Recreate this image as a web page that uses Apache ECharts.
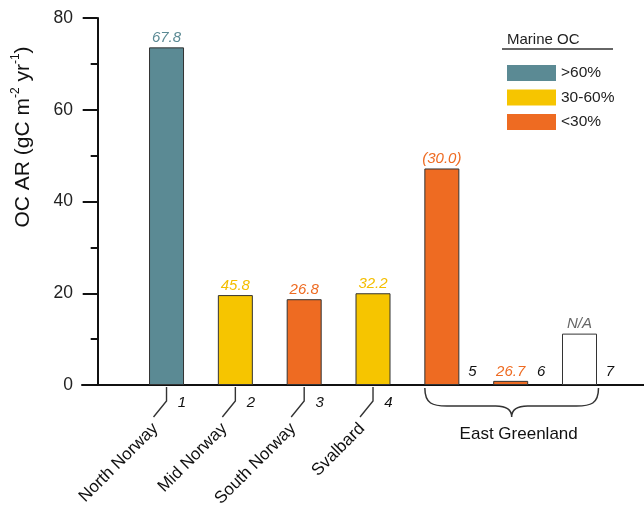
<!DOCTYPE html>
<html><head><meta charset="utf-8">
<script src="https://cdn.jsdelivr.net/npm/echarts@6/dist/echarts.min.js"></script>
<style>html,body{margin:0;padding:0;background:#fff}#c{width:644px;height:506px}</style>
</head><body><div id="c"></div>
<script>
// ---- data ----
const sitePos = [1, 2, 3, 4, 5, 6, 7];
const siteNumbers = ['1', '2', '3', '4', '5', '6', '7'];
const ocAR = [73.6, 19.6, 18.7, 20.0, 47.2, 0.9, 11.2];
const marineLabel = ['67.8', '45.8', '26.8', '32.2', '(30.0)', '26.7', 'N/A'];
const marineClass = ['>60%', '30-60%', '<30%', '30-60%', '<30%', '<30%', 'N/A'];
const classNames = ['>60%', '30-60%', '<30%'];
const regions = ['North Norway', 'Mid Norway', 'South Norway', 'Svalbard', 'East Greenland'];
const regionFrom = [1, 2, 3, 4, 5];
const regionTo = [1, 2, 3, 4, 7];
const yMin = 0, yMax = 80, yStep = 20;

// ---- styles ----
const FONT = '"Liberation Sans", Arial, Helvetica, sans-serif';
const fillColor = {'>60%': '#5b8a94', '30-60%': '#f6c500', '<30%': '#ee6b22', 'N/A': '#ffffff'};
const textColor = {'>60%': '#5b8a94', '30-60%': '#f4be00', '<30%': '#ee6b22', 'N/A': '#666666'};
const BAR_W = 35;

const chart = echarts.init(document.getElementById('c'), null, {renderer: 'canvas'});

const barData = sitePos.map((x, i) => ({
  value: [x, ocAR[i]],
  itemStyle: {color: fillColor[marineClass[i]], borderColor: '#333', borderWidth: 1},
  label: {formatter: marineLabel[i], color: textColor[marineClass[i]]}
}));

const dummySeries = classNames.map(n => ({
  name: n, type: 'bar', stack: 'all', data: [],
  itemStyle: {color: fillColor[n], borderWidth: 0}
}));

chart.setOption({
  animation: false,
  backgroundColor: '#fff',
  textStyle: {fontFamily: FONT},
  grid: {left: 82, right: 0, top: 18, bottom: 121, containLabel: false},
  legend: {
    data: classNames, orient: 'vertical', left: 502, top: 60,
    itemWidth: 49, itemHeight: 16, itemGap: 8.5, icon: 'rect',
    textStyle: {fontSize: 15.5, color: '#222', fontFamily: FONT},
    selectedMode: false
  },
  xAxis: {
    type: 'value', min: -0.228, max: 7.937,
    axisLine: {show: true, onZero: true, lineStyle: {color: '#111', width: 2}},
    axisTick: {show: false}, axisLabel: {show: false}, splitLine: {show: false}
  },
  yAxis: {
    type: 'value', min: yMin, max: yMax, interval: yStep,
    axisLine: {show: true, onZero: true, lineStyle: {color: '#111', width: 2}},
    axisTick: {show: true, inside: false, length: 15, lineStyle: {color: '#111', width: 2}},
    minorTick: {show: true, splitNumber: 2, length: 7, lineStyle: {color: '#111', width: 2}},
    axisLabel: {fontSize: 17.5, color: '#222', margin: 9, fontFamily: FONT},
    splitLine: {show: false}
  },
  graphic: [
    {type: 'text', x: 22, y: 137, rotation: Math.PI / 2,
     style: {text: '{a|OC AR (gC m}{s|-2}{a| yr}{s|-1}{a|)}', align: 'center', verticalAlign: 'middle',
       rich: {a: {fontSize: 21, fontFamily: FONT, fill: '#111', lineHeight: 24, verticalAlign: 'bottom'},
              s: {fontSize: 12, fontFamily: FONT, fill: '#111', lineHeight: 24, verticalAlign: 'top'}}}},
    {type: 'text', x: 507, y: 40, style: {text: 'Marine OC', fontSize: 15, fontFamily: FONT, fill: '#222', verticalAlign: 'middle'}},
    {type: 'line', shape: {x1: 502, y1: 49, x2: 613, y2: 49}, style: {stroke: '#333', lineWidth: 1.3}}
  ],
  series: [
    {
      name: 'OC AR', type: 'bar', stack: 'all', barWidth: BAR_W, data: barData,
      label: {show: true, position: 'top', distance: 2, fontSize: 15, fontStyle: 'italic', fontFamily: FONT},
      z: 3
    },
    ...dummySeries,
    {
      name: 'regions', type: 'custom', silent: true, z: 4,
      data: regions.map((r, i) => [regionFrom[i], regionTo[i], 0, i]),
      encode: {x: [0, 1], y: 2},
      renderItem: function (params, api) {
        const idx = api.value(3);
        const a = api.coord([api.value(0), 0]);
        const b = api.coord([api.value(1), 0]);
        const y0 = a[1];
        const name = regions[idx];
        const stroke = '#333';
        if (api.value(0) === api.value(1)) {
          const cx = a[0];
          return {type: 'group', children: [
            {type: 'polyline', shape: {points: [[cx, y0 + 2], [cx, y0 + 16], [cx - 13, y0 + 32]]},
             style: {stroke: stroke, lineWidth: 1.4, fill: null}},
            {type: 'text', x: cx - 17, y: y0 + 35, rotation: Math.PI / 4,
             style: {text: name, align: 'right', verticalAlign: 'top', fontSize: 17, fontFamily: FONT, fill: '#111'}}
          ]};
        }
        const L = a[0] - 17, R = b[0] + 19, mid = (L + R) / 2;
        const t = y0 + 3, h = y0 + 21, tip = y0 + 32;
        const d = 'M' + L + ' ' + t + ' C' + L + ' ' + (h - 2) + ' ' + (L + 8) + ' ' + h + ' ' + (L + 22) + ' ' + h +
          ' L' + (mid - 16) + ' ' + h + ' C' + (mid - 5) + ' ' + h + ' ' + mid + ' ' + (h + 4) + ' ' + mid + ' ' + tip +
          ' C' + mid + ' ' + (h + 4) + ' ' + (mid + 5) + ' ' + h + ' ' + (mid + 16) + ' ' + h +
          ' L' + (R - 22) + ' ' + h + ' C' + (R - 8) + ' ' + h + ' ' + R + ' ' + (h - 2) + ' ' + R + ' ' + t;
        return {type: 'group', children: [
          {type: 'path', shape: {pathData: d}, style: {stroke: stroke, lineWidth: 1.5, fill: null}},
          {type: 'text', x: mid + 7, y: y0 + 49,
           style: {text: name, align: 'center', verticalAlign: 'middle', fontSize: 17, fontFamily: FONT, fill: '#111'}}
        ]};
      }
    },
    {
      name: 'sites', type: 'custom', silent: true, z: 4,
      data: sitePos.map((x, i) => [x, 0, i]),
      encode: {x: 0, y: 1},
      renderItem: function (params, api) {
        const i = api.value(2);
        const p = api.coord([api.value(0), 0]);
        const below = i < 4;
        return {type: 'text', x: p[0] + (below ? 15.5 : 30.5), y: p[1] + (below ? 18 : -13),
          style: {text: siteNumbers[i], align: 'center', verticalAlign: 'middle', fontSize: 15,
                  fontStyle: 'italic', fontFamily: FONT, fill: '#111'}};
      }
    }
  ]
});
</script></body></html>
